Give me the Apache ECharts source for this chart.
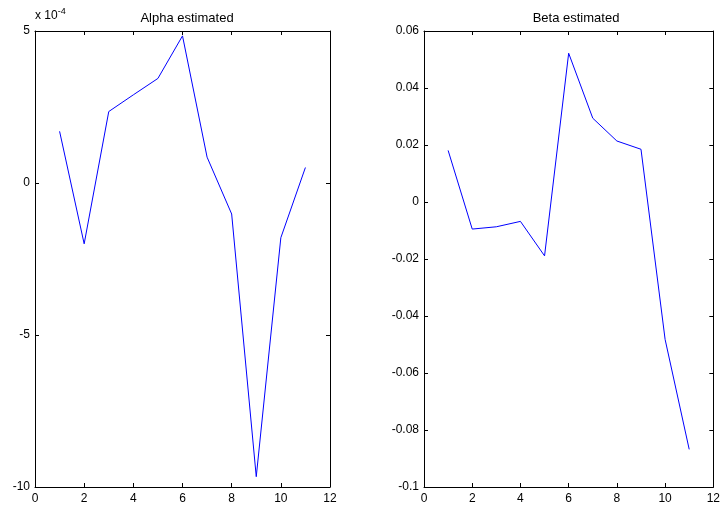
<!DOCTYPE html>
<html>
<head>
<meta charset="utf-8">
<script src="https://cdn.jsdelivr.net/npm/echarts@6/dist/echarts.min.js"></script>
<style>
  html, body { margin: 0; padding: 0; background: #fff; }
  #main { width: 723px; height: 506px; }
</style>
</head>
<body>
<div id="main"></div>
<script>
// sample index 1..11
const steps = [1, 2, 3, 4, 5, 6, 7, 8, 9, 10, 11];
// alpha estimate, in units of 1e-4
const alphaVals = [1.7, -2.0, 2.35, 2.9, 3.44, 4.84, 0.85, -1.02, -9.66, -1.8, 0.51];
// beta estimate
const betaVals = [0.0181, -0.0095, -0.0087, -0.0068, -0.0189, 0.0522, 0.0294, 0.0214, 0.0185, -0.0482, -0.0868];

const xTicks = { min: 0, max: 12, interval: 2 };
const alphaTicks = { min: -10, max: 5, interval: 5 };
const betaTicks = { min: -0.1, max: 0.06, interval: 0.02 };

const font = 'Liberation Sans, Arial, sans-serif';

function xAxisPair(grid) {
  const base = {
    type: 'value', gridIndex: grid,
    min: xTicks.min, max: xTicks.max, interval: xTicks.interval,
    splitLine: { show: false },
    axisLine: { show: true, onZero: false, lineStyle: { color: '#000', width: 1 } },
    axisTick: { show: true, inside: true, length: 4, lineStyle: { color: '#000' } }
  };
  return [
    Object.assign({}, base, {
      position: 'bottom',
      axisLabel: { color: '#000', fontFamily: font, fontSize: 12, margin: 6 }
    }),
    Object.assign({}, base, { position: 'top', axisLabel: { show: false } })
  ];
}

function yAxisPair(grid, t, extra) {
  const base = {
    type: 'value', gridIndex: grid,
    min: t.min, max: t.max, interval: t.interval,
    splitLine: { show: false },
    axisLine: { show: true, onZero: false, lineStyle: { color: '#000', width: 1 } },
    axisTick: { show: true, inside: true, length: 4, lineStyle: { color: '#000' } }
  };
  return [
    Object.assign({}, base, {
      position: 'left',
      axisLabel: { color: '#000', fontFamily: font, fontSize: 12, margin: 5 }
    }, extra || {}),
    Object.assign({}, base, { position: 'right', axisLabel: { show: false } })
  ];
}

const chart = echarts.init(document.getElementById('main'));
chart.setOption({
  animation: false,
  backgroundColor: '#fff',
  title: [
    { text: 'Alpha estimated', left: 182, top: 7, textAlign: 'center',
      textStyle: { fontFamily: font, fontSize: 13, fontWeight: 'normal', color: '#000' } },
    { text: 'Beta estimated', left: 571, top: 7, textAlign: 'center',
      textStyle: { fontFamily: font, fontSize: 13, fontWeight: 'normal', color: '#000' } }
  ],
  grid: [
    { left: 35, right: 393, top: 31, bottom: 19 },
    { left: 424, right: 4, top: 31, bottom: 19 }
  ],
  xAxis: [].concat(xAxisPair(0), xAxisPair(1)),
  yAxis: [].concat(
    yAxisPair(0, alphaTicks, {
      name: '{a|x 10}{b|-4}',
      nameLocation: 'end',
      nameGap: 7,
      nameTextStyle: {
        align: 'left',
        padding: [0, 0, 0, 0],
        rich: {
          a: { fontFamily: font, fontSize: 12, color: '#000' },
          b: { fontFamily: font, fontSize: 9, color: '#000', verticalAlign: 'top', padding: [0, 0, 8, 0] }
        }
      }
    }),
    yAxisPair(1, betaTicks)
  ),
  series: [
    {
      type: 'line', xAxisIndex: 0, yAxisIndex: 0,
      data: steps.map((s, i) => [s, alphaVals[i]]),
      showSymbol: false,
      lineStyle: { color: '#0000ff', width: 1 }
    },
    {
      type: 'line', xAxisIndex: 2, yAxisIndex: 2,
      data: steps.map((s, i) => [s, betaVals[i]]),
      showSymbol: false,
      lineStyle: { color: '#0000ff', width: 1 }
    }
  ]
});
</script>
</body>
</html>
